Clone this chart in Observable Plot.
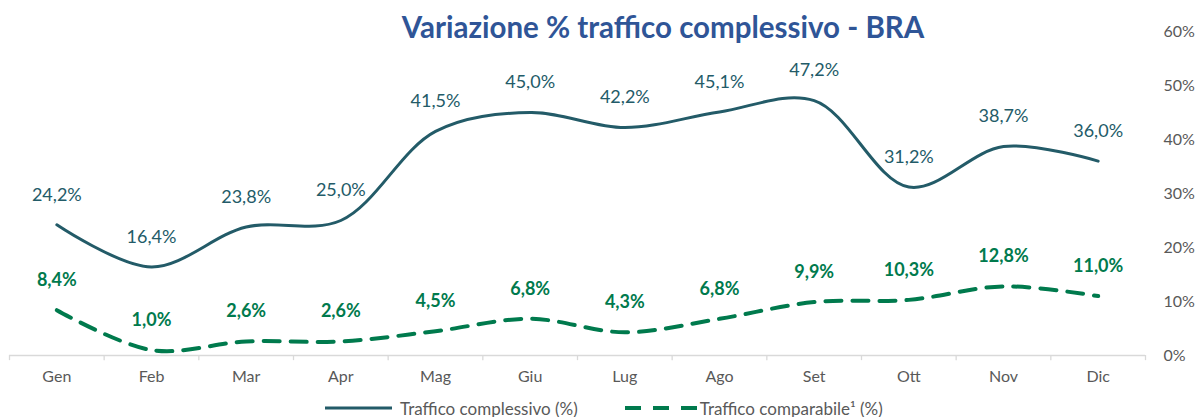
<!DOCTYPE html>
<html>
<head>
<meta charset="utf-8">
<script src="https://cdn.jsdelivr.net/npm/d3@7"></script>
<script src="https://cdn.jsdelivr.net/npm/@observablehq/plot@0.6"></script>
<style>
  body { margin: 0; background: #fff; font-family: Lato, sans-serif; }
  #wrap { position: relative; width: 1197px; height: 417px; overflow: hidden; }
  #title { position: absolute; top: 12px; left: 663px; transform: translateX(-50%);
           font-weight: 700; font-size: 29.5px; color: #2F5597; white-space: nowrap; line-height: 1; }
  #legend { position: absolute; top: 398px; left: 325px; height: 20px; font-size: 17px; color: #595959;
            display: flex; align-items: center; white-space: nowrap; }
  #legend svg { display: block; }
  .item { display: flex; align-items: center; }
</style>
</head>
<body>
<div id="wrap">
  <div id="chart"></div>
  <div id="title">Variazione % traffico complessivo - BRA</div>
  <div id="legend">
    <div class="item"><svg width="75" height="20"><line x1="0" x2="67" y1="10" y2="10" stroke="#235B68" stroke-width="3"/></svg><span>Traffico complessivo (%)</span></div>
    <div class="item" style="margin-left:47px"><svg width="75" height="20"><line x1="0" x2="72" y1="10" y2="10" stroke="#007A4D" stroke-width="4" stroke-dasharray="16,12"/></svg><span>Traffico comparabile¹ (%)</span></div>
  </div>
</div>
<script>
const months = ["Gen","Feb","Mar","Apr","Mag","Giu","Lug","Ago","Set","Ott","Nov","Dic"];
const complessivo = [24.2,16.4,23.8,25.0,41.5,45.0,42.2,45.1,47.2,31.2,38.7,36.0];
const comparabile = [8.4,1.0,2.6,2.6,4.5,6.8,4.3,6.8,9.9,10.3,12.8,11.0];
const yTicks = [0,10,20,30,40,50,60];

const fmt = v => v.toFixed(1).replace(".", ",") + "%";
const idx = months.map((m, i) => i);
const dataA = idx.map(i => ({i, v: complessivo[i]}));
const dataB = idx.map(i => ({i, v: comparabile[i]}));
const edges = d3.range(months.length + 1).map(i => i - 0.5);

const blue = "#235B68", green = "#007A4D", grey = "#595959";

const chart = Plot.plot({
  width: 1197,
  height: 395,
  marginTop: 31,
  marginBottom: 40,
  marginLeft: 9,
  marginRight: 52,
  style: { fontFamily: "Lato, sans-serif", background: "transparent", overflow: "visible" },
  x: { type: "linear", domain: [-0.5, months.length - 0.5], axis: null },
  y: { domain: [0, 60], axis: null },
  marks: [
    Plot.ruleY([0], { stroke: "#D9D9D9", strokeWidth: 1.3 }),
    Plot.ruleX(edges, { x: d => d, y1: 0, y2: -0.95, stroke: "#D9D9D9", strokeWidth: 1.3 }),
    Plot.axisX({ ticks: idx, tickFormat: i => months[i], tickSize: 0, tickPadding: 15, fontSize: 16, color: grey, label: null }),
    Plot.axisY({ anchor: "right", ticks: yTicks, tickFormat: d => d + "%", tickSize: 0, tickPadding: 18, fontSize: 16, color: grey, label: null }),
    Plot.line(dataA, { x: "i", y: "v", stroke: blue, strokeWidth: 3, curve: "catmull-rom" }),
    Plot.line(dataB, { x: "i", y: "v", stroke: green, strokeWidth: 4, strokeDasharray: "16,11", curve: "catmull-rom" }),
    Plot.text(dataA, { x: "i", y: "v", text: d => fmt(d.v), dy: -30, fill: blue, fontSize: 18 }),
    Plot.text(dataB, { x: "i", y: "v", text: d => fmt(d.v), dy: -30, fill: green, fontSize: 18, fontWeight: "bold" })
  ]
});
document.getElementById("chart").appendChild(chart);
</script>
</body>
</html>
